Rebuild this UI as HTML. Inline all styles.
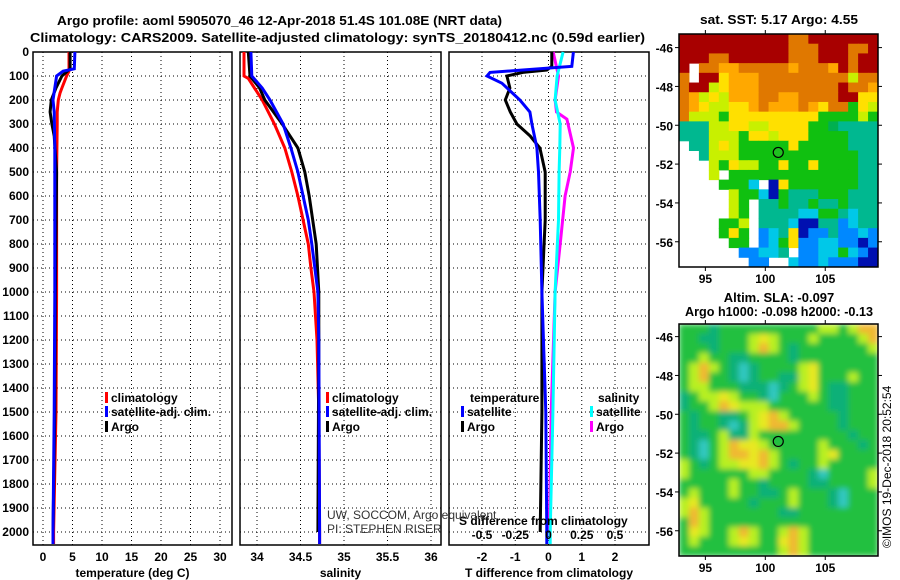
<!DOCTYPE html>
<html><head><meta charset="utf-8"><style>
body{margin:0;background:#fff;}
svg{display:block;font-family:"Liberation Sans",Arial,sans-serif;}
.t{font-weight:bold;font-size:13px;}
.l{font-weight:bold;font-size:12px;}
</style></head><body>
<svg id="c" width="900" height="580" viewBox="0 0 900 580">
<text class="t" x="57" y="25" textLength="445" lengthAdjust="spacingAndGlyphs">Argo profile: aoml 5905070_46 12-Apr-2018 51.4S 101.08E (NRT data)</text>
<text class="t" x="30" y="42" textLength="615" lengthAdjust="spacingAndGlyphs">Climatology: CARS2009. Satellite-adjusted climatology: synTS_20180412.nc (0.59d earlier)</text>
<text class="t" x="779" y="24" text-anchor="middle" textLength="158" lengthAdjust="spacingAndGlyphs">sat. SST: 5.17 Argo: 4.55</text>
<text class="t" x="779" y="302" text-anchor="middle">Altim. SLA: -0.097</text>
<text class="t" x="779" y="316" text-anchor="middle" textLength="188" lengthAdjust="spacingAndGlyphs">Argo h1000: -0.098 h2000: -0.13</text>
<text x="891" y="548" font-size="12" transform="rotate(-90 891 548)">©IMOS 19-Dec-2018 20:52:54</text>
</svg>
<script>
// ---- data ----
const depthTicks=[0,100,200,300,400,500,600,700,800,900,1000,1100,1200,1300,1400,1500,1600,1700,1800,1900,2000];
const tTicks=[0,5,10,15,20,25,30];
const sTicks=[34,34.5,35,35.5,36];
const sTickLabels=["34","34.5","35","35.5","36"];
const dTicks=[-2,-1,0,1,2];
const sdTicks=[-0.5,-0.25,0,0.25,0.5];
const sdTickLabels=["-0.5","-0.25","0","0.25","0.5"];
const tClimDepth=[0,80,100,150,170,200,250,300,500,1000,1500,2000,2050];
const tClim=[4.4,4.4,4.0,3.2,2.9,2.6,2.4,2.4,2.3,2.3,2.2,1.8,1.8];
const tSatDepth=[0,70,80,100,150,200,250,400,1000,1500,2000,2050];
const tSat=[5.4,5.3,3.4,2.3,2.0,1.7,1.9,2.0,2.0,1.9,1.7,1.7];
const tArgoDepth=[0,70,100,150,200,250,300,350,500,1000,1500,2000];
const tArgo=[4.6,4.6,3.2,2.2,1.4,1.2,1.5,1.9,2.3,2.1,2.0,1.7];
const sClimDepth=[0,100,110,200,300,400,500,600,700,800,900,1000,1200,1500,2000,2050];
const sClim=[33.85,33.85,33.9,34.06,34.2,34.32,34.4,34.47,34.53,34.59,34.62,34.655,34.69,34.71,34.72,34.72];
const sSatDepth=[0,100,150,200,300,400,500,600,700,800,1000,1200,2000,2050];
const sSat=[33.93,33.94,34.06,34.15,34.3,34.39,34.47,34.53,34.59,34.63,34.7,34.71,34.72,34.72];
const sArgoDepth=[0,100,150,200,300,400,500,600,700,800,1000,1200,2000];
const sArgo=[33.9,33.92,34.03,34.09,34.29,34.47,34.55,34.6,34.64,34.68,34.71,34.71,34.70];
const dtSatDepth=[0,60,75,85,100,130,200,250,300,400,500,700,1000,1500,2000,2050];
const dtSat=[0.75,0.7,-0.77,-1.76,-1.85,-1.4,-0.86,-0.56,-0.5,-0.35,-0.3,-0.25,-0.2,-0.08,-0.05,-0.05];
const dtArgoDepth=[0,60,75,85,100,150,200,250,300,350,400,500,700,1000,1500,2000];
const dtArgo=[0.1,0.1,-0.05,-0.77,-1.25,-1.16,-1.3,-1.15,-0.95,-0.55,-0.26,-0.1,-0.1,-0.2,-0.2,-0.25];
const dsSatDepth=[0,100,200,300,400,500,700,1000,1500,2000,2050];
const dsSat=[0.11,0.065,0.05,0.088,0.085,0.08,0.075,0.05,0.033,0.013,0.013];
const dsArgoDepth=[0,100,200,250,280,400,500,600,800,1000,1500,2000];
const dsArgo=[0.035,0.075,0.05,0.06,0.138,0.188,0.163,0.125,0.088,0.05,0.02,0.005];
const latTicks=[-46,-48,-50,-52,-54,-56];
const lonTicks=[95,100,105];
const sstGrid=[
"RRRRRRRRRRROORRRRRRR","RRRRRRRRRRROOORRROOR","RRROORRRRRROOORRRORR","R.OOooOOOOOoOOOoRORR",
"O.RRYoooOOOOOOOOOyOO","ORRyYoooOOOOOOOOROOo","OoyYyoooOOooOOOORRYY","OoYyyYYoOoooOoYOOGYy",
"OyyyGYYYYYYYYYGGGGyG","TTTyyYYyyYYYYGGgTTTT","TTTyyyGYYyYYYGGGGTTT",".TTyYyGGGGGYGGGGGTTT",
"..TyyyGGGGGGGGGGGGTT","...yGYyyGGYGGYGGGGTT","...y.GGGGGGGGGGGGGTT","....GGGC.DYGGGGGGGTT",
".....yGGCDGTTTGGGTTT",".....yG.TTGTTGTTGTTT",".....yG.TTTTCCGGTCTT","....GGy.TTTCDDTTBCTT",
"....GYG.BCTYDBBTBBCB",".....GG.BCGYBBCCBBDB","......BBCCT.BBCCGCBD",".......BB..CBBCBBBDD"];
const slaGrid=[
"GGGTGGGGGGGGGGyyGyOO","GGTTGGGyYyGGGyGGGGyO","GGGTGGGyOyGTGGGGGGGy","GGyGGTTGGGGTGGGGGGGG",
"GyOyGTcTGGGGyYGGGGGG","GyOGGTcTGGTTyYGGGyGG","GyyGGGTTTcTGyYGTTGGG","TGyyYyGGTcGGGyGTTGGG",
"TGGyOYyyyGGGGGGTTGGG","GTGGTTGyYOyGGGGGTGGG","GTGGTcTyYOOyGGGGTGGG","GTTGyTTyGGGGGGGGGTGG",
"GTcGyOYYyGGGGGyGGGTG","GTcGyOOYOyGGGGyYGGGG","yGTGyyYYOyGTGGyGGGGG","yGGGGGGyyGGGGTcGGGGy",
"GGGGGyGGTGGGGTTGGGGy","GyGGGyGGTTGyGGGTcGGG","yYGGGGGTGGGyGGGTcGGG","yOyGGGGGGGTTGGGGGGGG",
"GOyGGGGGGGGGGGGGGGGG","GYyGGyOyGGyOyGGGGGGG","GyGGGyYyGGYOyGGGGGGG","GGGGGGGGGGyOyGGGGGGG"];
const argoLon=101.08, argoLat=-51.4;
// ---- drawing ----
const svg=document.getElementById('c');const NS='http://www.w3.org/2000/svg';
function mk(tag,attrs,parent){const e=document.createElementNS(NS,tag);for(const k in attrs)e.setAttribute(k,attrs[k]);(parent||svg).appendChild(e);return e;}
const yTop=52,yPer=0.24,yBot=545;
const Y=d=>yTop+d*yPer;
const panels=[{x0:33,x1:232,v0:0,v1:30,p0:43,p1:220},{x0:240,x1:441,v0:34,v1:36,p0:257,p1:431},{x0:449,x1:649,v0:-2,v1:2,p0:482,p1:615}];
const X=(p,v)=>p.p0+(v-p.v0)*(p.p1-p.p0)/(p.v1-p.v0);
const names=['temperature-panel','salinity-panel','difference-panel'];
const tickSets=[tTicks,sTicks,dTicks];
const tickLab=[tTicks.map(String),sTickLabels,dTicks.map(String)];
const titles=['temperature (deg C)','salinity','T difference from climatology'];
panels.forEach((p,i)=>{
  const g=mk('g',{});
  depthTicks.forEach(d=>{const l=mk('line',{x1:p.x0,x2:p.x1,y1:Y(d),y2:Y(d),stroke:'#000','stroke-width':1,'stroke-dasharray':'1,3'},g);});
  tickSets[i].forEach((v,k)=>{const x=X(p,v);
    const l=mk('line',{x1:x,x2:x,y1:yTop,y2:yBot,stroke:'#000','stroke-width':1,'stroke-dasharray':'1,3'},g);
    const t=mk('text',{x:x,y:561,'text-anchor':'middle',class:'l'},g);t.textContent=tickLab[i][k];});
  const r=mk('rect',{x:p.x0,y:yTop,width:p.x1-p.x0,height:yBot-yTop,fill:'none',stroke:'#000','stroke-width':1.5},g);
  const tt=mk('text',{x:(p.x0+p.x1)/2,y:577,'text-anchor':'middle',class:'l'},g);tt.textContent=titles[i];
});
depthTicks.forEach(d=>{const t=mk('text',{x:29,y:Y(d)+4,'text-anchor':'end',class:'l'});t.textContent=String(d);});
function line(p,depths,vals,color,name,scale){
  const pts=depths.map((d,k)=>X(p,vals[k]*(scale||1)).toFixed(1)+','+Y(d).toFixed(1)).join(' ');
  const e=mk('polyline',{points:pts,fill:'none',stroke:color,'stroke-width':3,'stroke-linejoin':'miter'});
  
}
line(panels[0],tClimDepth,tClim,'#f00','temp-climatology-line');
line(panels[0],tArgoDepth,tArgo,'#000','temp-argo-line');
line(panels[0],tSatDepth,tSat,'#00f','temp-satellite-line');
line(panels[1],sClimDepth,sClim,'#f00','sal-climatology-line');
line(panels[1],sArgoDepth,sArgo,'#000','sal-argo-line');
line(panels[1],sSatDepth,sSat,'#00f','sal-satellite-line');
line(panels[2],dsArgoDepth,dsArgo,'#f0f','sdiff-argo-line',4);
line(panels[2],dsSatDepth,dsSat,'#0ff','sdiff-satellite-line',4);
line(panels[2],dtArgoDepth,dtArgo,'#000','tdiff-argo-line');
line(panels[2],dtSatDepth,dtSat,'#00f','tdiff-satellite-line');
const sdt=mk('text',{x:459,y:525,class:'l'});sdt.textContent='S difference from climatology';
sdTicks.forEach((v,k)=>{const t=mk('text',{x:X(panels[2],v*4),y:539,'text-anchor':'middle',class:'l'});t.textContent=sdTickLabels[k];});
function leg(x,y,color,text,name){const g=mk('g',{});
  mk('rect',{x:x,y:y-10,width:3,height:11,fill:color},g);const t=mk('text',{x:x+6,y:y,class:'l'},g);t.textContent=text;}
[[105,'legend-climatology'],[326,'legend-sal-climatology']].forEach(a=>leg(a[0],402,'#f00','climatology',a[1]));
leg(105,416,'#00f','satellite-adj. clim.','legend-satellite');leg(326,416,'#00f','satellite-adj. clim.','legend-sal-satellite');
leg(105,431,'#000','Argo','legend-argo');leg(326,431,'#000','Argo','legend-sal-argo');
const lt=mk('text',{x:470,y:402,class:'l'});lt.textContent='temperature';
const ls=mk('text',{x:598,y:402,class:'l'});ls.textContent='salinity';
leg(461,416,'#00f','satellite','legend-tdiff-satellite');leg(461,431,'#000','Argo','legend-tdiff-argo');
leg(590,416,'#0ff','satellite','legend-sdiff-satellite');leg(590,431,'#f0f','Argo','legend-sdiff-argo');
const u1=mk('text',{x:327,y:519,'font-size':12,fill:'#333'});u1.textContent='UW, SOCCOM, Argo equivalent';
const u2=mk('text',{x:327,y:533,'font-size':12,fill:'#333'});u2.textContent='PI: STEPHEN RISER';
const sstCol={R:'#a80000',O:'#e07800',o:'#ffa800',Y:'#ffe000',y:'#c8f000',G:'#10c010',g:'#00b050',T:'#00b890',C:'#00c8e8',B:'#0088ff',D:'#0010b0'};
const slaCol={G:'#20c040',T:'#10b078',c:'#30c8c0',y:'#b8f020',Y:'#e8e820',O:'#f0b830'};
function map(x0,y0,x1,y1,grid,cols,name,lon0,lon1,lat0,lat1,fillDot,blur){
  const g=mk('g',{});
  const nr=grid.length,nc=grid[0].length,cw=(x1-x0)/nc,ch=(y1-y0)/nr;
  const cg=mk('g',blur?{filter:'url(#bl)'}:{},g);
  grid.forEach((row,r)=>{for(let c=0;c<nc;c++){const k=row[c];if(k==='.')continue;
    const e=mk('rect',{x:x0+c*cw,y:y0+r*ch,width:cw+0.5,height:ch+0.5,fill:cols[k]},cg);}});
  const lx=v=>x0+(v-lon0)*(x1-x0)/(lon1-lon0), ly=v=>y0+(v-lat0)*(y1-y0)/(lat1-lat0);
  mk('rect',{x:x0,y:y0,width:x1-x0,height:y1-y0,fill:'none',stroke:'#000','stroke-width':1.5},g);
  latTicks.forEach(v=>{const y=ly(v);mk('line',{x1:x1,x2:x1+4,y1:y,y2:y,stroke:'#000'},g);mk('line',{x1:x0-4,x2:x0,y1:y,y2:y,stroke:'#000'},g);
    const t=mk('text',{x:x0-6,y:y+5,'text-anchor':'end',class:'l','font-size':13},g);t.textContent=String(v);});
  lonTicks.forEach(v=>{const x=lx(v);mk('line',{x1:x,x2:x,y1:y1,y2:y1+4,stroke:'#000'},g);mk('line',{x1:x,x2:x,y1:y0-4,y2:y0,stroke:'#000'},g);
    const t=mk('text',{x:x,y:y1+16,'text-anchor':'middle',class:'l','font-size':13},g);t.textContent=String(v);});
  const m=mk('circle',{cx:lx(argoLon),cy:ly(argoLat),r:5,fill:fillDot,stroke:'#000','stroke-width':1.2},g);
}
const defs=mk('defs',{});const f=mk('filter',{id:'bl',x:0,y:0,width:1,height:1},defs);mk('feGaussianBlur',{stdDeviation:3,edgeMode:'duplicate'},f);
map(679,34,878,267,sstGrid,sstCol,'sst-map',92.8,109.4,-45.3,-57.3,'#20c020',false);
map(679,324,878,556,slaGrid,slaCol,'sla-map',92.8,109.4,-45.35,-57.3,'none',true);
</script>
</body></html>
